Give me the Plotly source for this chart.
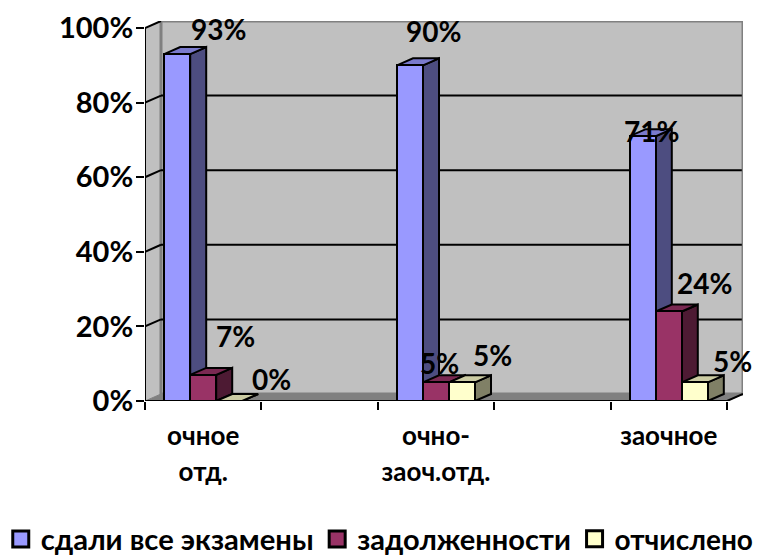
import plotly.graph_objects as go

categories = ["очное<br>отд.", "очно-<br>заоч.отд.", "заочное"]
cat_pos = [0.5, 2.5, 4.5]
passed = [93, 90, 71]
debts = [7, 5, 24]
expelled = [0, 5, 5]
series_names = ["сдали все экзамены", "задолженности", "отчислено"]
y_ticks = [0, 20, 40, 60, 80, 100]
y_labels = ["0%", "20%", "40%", "60%", "80%", "100%"]
x_ticks = [0, 1, 2, 3, 4, 5]

FONT = "Lato, 'Noto Sans', sans-serif"
W = 0.2234
DX = 0.1375
DY = 1.88
offsets = [-1.5 * W, -0.5 * W, 0.5 * W]
front = ["#9999FF", "#993366", "#FFFFCC"]
side = ["#4D4D80", "#4D1A33", "#808066"]
top = ["#7A7ACC", "#7A2952", "#CCCCA3"]
values = [passed, debts, expelled]
label_shift = [
    [(41, 25), (24, 34), (9, 5)],
    [(32, 39), (3, 19), (36, 28)],
    [(42, 22), (30, 27), (38, 21)],
]
legend_x = [0.001, 0.419, 0.759]
legend_size = [29.2, 29, 28]

fig = go.Figure()

shapes = [
    dict(type="path", path=f"M 0 0 L {DX} {DY} L {DX} {100+DY} L 0 100 Z",
         fillcolor="#C0C0C0", line=dict(width=0), layer="below"),
    dict(type="rect", x0=DX, x1=5 + DX, y0=DY, y1=100 + DY,
         fillcolor="#C0C0C0", line=dict(color="#808080", width=3), layer="below"),
    dict(type="path", path=f"M 0 0 L 5 0 L {5+DX} {DY} L {DX} {DY} Z",
         fillcolor="#808080", line=dict(color="#808080", width=1), layer="below"),
]
for v in y_ticks[1:-1]:
    shapes.append(dict(type="line", x0=DX, x1=5 + DX - 0.01, y0=v + DY, y1=v + DY,
                       line=dict(color="black", width=2), layer="below"))
for v in y_ticks[1:]:
    shapes.append(dict(type="line", x0=0, x1=DX, y0=v, y1=v + DY,
                       line=dict(color="black", width=2), layer="below"))

def poly(x, y, color, z):
    fig.add_trace(go.Scatter(x=x, y=y, mode="lines", fill="toself", fillcolor=color,
                             line=dict(color="black", width=2), showlegend=False,
                             hoverinfo="skip", cliponaxis=False, zorder=z))

for i, (name, vals) in enumerate(zip(series_names, values)):
    z = 2 * i + 1
    for c, v in zip(cat_pos, vals):
        x0 = c + offsets[i]
        x1 = x0 + W
        poly([x1, x1 + DX, x1 + DX, x1, x1], [0, DY, v + DY, v, 0], side[i], z)
        poly([x0, x0 + DX, x1 + DX, x1, x0], [v, v + DY, v + DY, v, v], top[i], z)
    fig.add_trace(go.Bar(x=cat_pos, y=vals, width=W, offset=offsets[i], name=name,
                         marker=dict(color=front[i], line=dict(color="black", width=2)),
                         showlegend=False, cliponaxis=False, zorder=z + 1))
    lid = "legend" if i == 0 else f"legend{i+1}"
    fig.add_trace(go.Scatter(x=[None], y=[None], mode="markers", name=name, legend=lid,
                             marker=dict(symbol="square", size=16, color=front[i],
                                         line=dict(color="black", width=3))))

for xs, ys in [([0, 0], [0, 100]), ([0, 5, 5 + DX], [0, 0, DY])]:
    fig.add_trace(go.Scatter(x=xs, y=ys, mode="lines", line=dict(color="black", width=2),
                             showlegend=False, hoverinfo="skip", cliponaxis=False, zorder=0))

annotations = []
for i, vals in enumerate(values):
    for j, v in enumerate(vals):
        sx, sy = label_shift[i][j]
        annotations.append(dict(x=cat_pos[j] + offsets[i] + W / 2, y=v, text=f"<b>{v}%</b>",
                                showarrow=False, xshift=sx, yshift=sy, xanchor="center",
                                yanchor="middle", font=dict(family=FONT, size=28, color="black")))

def legend_box(x, size):
    return dict(orientation="h", x=x, y=0.0305, xref="container", yref="container", xanchor="left",
                yanchor="middle", font=dict(family=FONT, size=size, color="black", weight="bold"),
                bgcolor="rgba(0,0,0,0)", itemwidth=30, itemsizing="trace", tracegroupgap=0)

fig.update_layout(
    width=757, height=556, autosize=False,
    margin=dict(l=145, r=14, t=21, b=155, pad=0),
    paper_bgcolor="white", plot_bgcolor="white",
    barmode="overlay",
    shapes=shapes, annotations=annotations,
    font=dict(family=FONT, color="black"),
    xaxis=dict(range=[0, 5 + DX], showgrid=False, zeroline=False, showline=False,
               automargin=False,
               tickmode="array", tickvals=cat_pos,
               ticktext=[f"<span style='font-size:26px'><b>{c.replace('<br>', '</b></span><br><span style=\"font-size:26px\"><b>')}</b></span>" for c in categories],
               ticks="", ticklabelstandoff=15,
               tickfont=dict(family=FONT, size=28, color="black"),
               minor=dict(tickmode="array", tickvals=x_ticks, ticks="outside", ticklen=8,
                          tickwidth=2, tickcolor="black", showgrid=False)),
    yaxis=dict(range=[0, 100 + DY], showgrid=False, zeroline=False, showline=False,
               automargin=False,
               tickmode="array", tickvals=y_ticks, ticktext=[f"<b>{t}</b>" for t in y_labels],
               ticks="outside", ticklen=8, tickwidth=2, tickcolor="black", ticklabelstandoff=-3,
               tickfont=dict(family=FONT, size=29, color="black")),
    legend=legend_box(legend_x[0], legend_size[0]),
    legend2=legend_box(legend_x[1], legend_size[1]),
    legend3=legend_box(legend_x[2], legend_size[2]),
    bargap=0,
)
fig.write_html("out.html", post_script="document.body.style.margin='0';",
               config={"displayModeBar": False})
